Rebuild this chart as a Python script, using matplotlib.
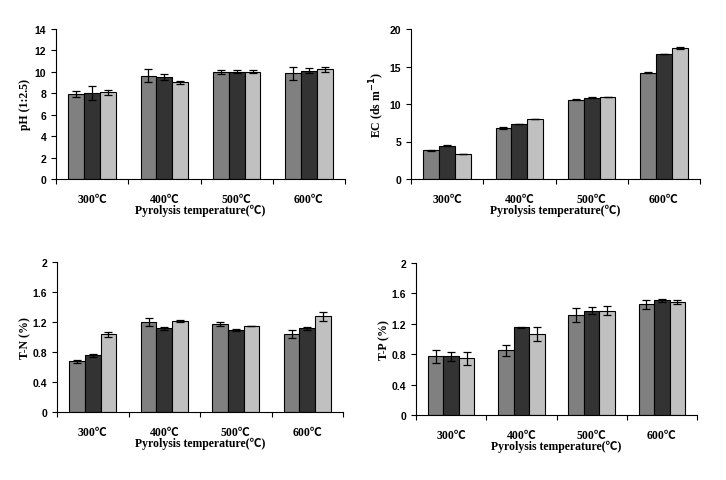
import numpy as np
import matplotlib
matplotlib.use('Agg')
import matplotlib.pyplot as plt

# 数据
temps = ['300℃', '400℃', '500℃', '600℃']
colors = ['#808080', '#333333', '#c0c0c0']

ph = [[7.95, 9.66, 9.97, 9.88],
      [8.0, 9.5, 10.03, 10.12],
      [8.1, 9.04, 10.03, 10.25]]
ph_err = [[0.3, 0.6, 0.2, 0.6],
          [0.65, 0.28, 0.1, 0.25],
          [0.25, 0.15, 0.15, 0.22]]

ec = [[3.82, 6.8, 10.6, 14.2],
      [4.44, 7.33, 10.84, 16.67],
      [3.33, 8.0, 10.93, 17.47]]
ec_err = [[0.03, 0.08, 0.08, 0.05],
          [0.1, 0.03, 0.03, 0.03],
          [0.05, 0.03, 0.03, 0.15]]

tn = [[0.68, 1.2, 1.173, 1.04],
      [0.755, 1.12, 1.093, 1.115],
      [1.035, 1.213, 1.147, 1.28]]
tn_err = [[0.02, 0.05, 0.025, 0.05],
          [0.02, 0.02, 0.015, 0.025],
          [0.03, 0.01, 0.005, 0.06]]

tp = [[0.771, 0.85, 1.313, 1.458],
      [0.771, 1.154, 1.374, 1.507],
      [0.745, 1.062, 1.37, 1.485]]
tp_err = [[0.09, 0.07, 0.09, 0.06],
          [0.06, 0.01, 0.05, 0.02],
          [0.09, 0.09, 0.06, 0.03]]

serif = ['Liberation Serif', 'Noto Sans CJK SC']
sans = ['Liberation Sans', 'DejaVu Sans']

fig = plt.figure(figsize=(7.26, 4.81), dpi=100)
W, H = 726, 481


def panel(box, vals, errs, ylim, yticks, ylabel, pad):
    l, r, t, b = box
    ax = fig.add_axes([l / W, 1 - b / H, (r - l) / W, (b - t) / H])
    x = np.arange(4) + 0.5
    w = 0.22
    for i in range(3):
        ax.bar(x + (i - 1) * w, vals[i], w, yerr=errs[i], color=colors[i],
               edgecolor='black', linewidth=0.8, capsize=3,
               error_kw=dict(elinewidth=0.9, capthick=0.9, ecolor='black'))
    ax.set_xlim(0, 4)
    ax.set_ylim(*ylim)
    ax.set_yticks(yticks)
    ax.set_yticklabels([('%g' % v) for v in yticks], fontfamily=sans,
                       fontweight='bold', fontsize=7.5)
    ax.set_xticks([0, 1, 2, 3, 4])
    ax.set_xticklabels([])
    ax.tick_params(axis='both', direction='out', length=3.5, width=0.8)
    for s in ['top', 'right']:
        ax.spines[s].set_visible(False)
    for s in ['left', 'bottom']:
        ax.spines[s].set_linewidth(0.8)
    for xi, lab in zip(x, temps):
        ax.annotate(lab, (xi, 0), xycoords=('data', 'axes fraction'),
                    xytext=(0, -20), textcoords='offset pixels', ha='center',
                    va='center', family=serif, fontweight='bold', fontsize=8.5)
    ax.annotate('Pyrolysis temperature(℃)', (0.5, 0), xycoords='axes fraction',
                xytext=(0, -31), textcoords='offset pixels', ha='center',
                va='center', family=serif, fontweight='bold', fontsize=8.5)
    ax.set_ylabel(ylabel, family=serif, fontweight='bold', fontsize=8.5,
                  labelpad=pad)
    return ax


panel((56, 345, 30, 180), ph, ph_err, (0, 14), [0, 2, 4, 6, 8, 10, 12, 14],
      'pH (1:2.5)', 3)
panel((411, 700, 30, 180), ec, ec_err, (0, 20), [0, 5, 10, 15, 20],
      'EC (ds m$^{\\mathbf{-1}}$)', 2)
panel((57, 343, 263, 413), tn, tn_err, (0, 2), [0, 0.4, 0.8, 1.2, 1.6, 2],
      'T-N (%)', 1)
panel((416, 697, 264, 416), tp, tp_err, (0, 2), [0, 0.4, 0.8, 1.2, 1.6, 2],
      'T-P (%)', 1)

fig.savefig('out.png', dpi=100)
